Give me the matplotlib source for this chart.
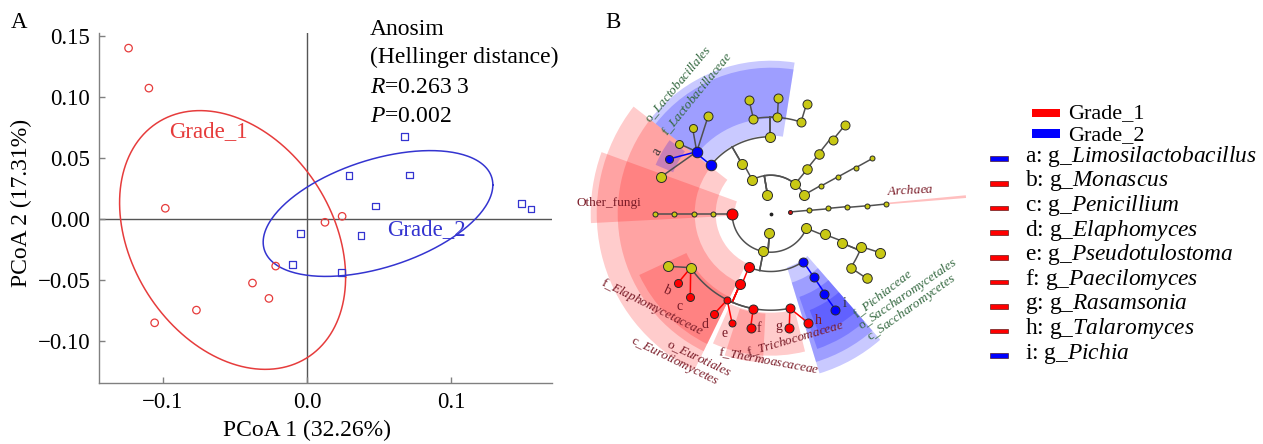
import numpy as np
import matplotlib
matplotlib.use('Agg')
import matplotlib.pyplot as plt
from matplotlib.patches import Wedge, Rectangle

plt.rcParams['font.family'] = ['Liberation Serif', 'DejaVu Serif']
plt.rcParams['mathtext.fontset'] = 'custom'
plt.rcParams['mathtext.rm'] = 'Liberation Serif'
plt.rcParams['mathtext.it'] = 'Liberation Serif:italic'

W, H = 1263, 444

# ---------------- panel A : PCoA ----------------
g1_pc1 = [-0.1239, -0.1098, -0.0984, 0.0124, 0.0243, -0.0218, -0.0379, -0.0265, -0.0768, -0.1058]
g1_pc2 = [0.1401, 0.1073, 0.0088, -0.0027, 0.0022, -0.0386, -0.0525, -0.0651, -0.0747, -0.0851]
g2_pc1 = [0.0677, 0.0290, 0.0711, 0.0476, -0.0045, 0.0374, -0.0102, 0.0240, 0.1487, 0.1554]
g2_pc2 = [0.0676, 0.0356, 0.0359, 0.0107, -0.0120, -0.0137, -0.0375, -0.0438, 0.0126, 0.0082]

ell_g1_center = [-0.0517, -0.0172]
ell_g1_cov = [[0.00615, -0.0024], [-0.0024, 0.01125]]
ell_g2_center = [0.0492, 0.0045]
ell_g2_cov = [[0.00635, 0.00187], [0.00187, 0.00266]]

x_ticks = [-0.1, 0.0, 0.1]
x_tick_labels = ['\u22120.1', '0.0', '0.1']
y_ticks = [-0.10, -0.05, 0.00, 0.05, 0.10, 0.15]
y_tick_labels = ['\u22120.10', '\u22120.05', '0.00', '0.05', '0.10', '0.15']

anosim_lines = ['Anosim', '(Hellinger distance)', '$\\mathit{R}$=0.263 3', '$\\mathit{P}$=0.002']

# ---------------- panel B : cladogram ----------------
node_name = ['root',
             'k_Bacteria', 'p_Firmicutes', 'c_Bacilli', 'o_Lactobacillales', 'f_Lactobacillaceae',
             'g_L1', 'g_L2', 'g_L3', 'g_Limosilactobacillus', 'g_L4',
             'o_B2', 'f_B2a', 'f_B2b', 'f_B2c', 'g_B2a', 'g_B2b', 'g_B2c',
             'p_B2', 'c_B2', 'o_B3', 'f_B3', 'g_B3',
             'p_B3', 'c_B3', 'o_B4', 'f_B4', 'g_B4',
             'k_Archaea', 'p_A', 'c_A', 'o_A', 'f_A', 'g_A',
             'k_Fungi', 'Other_fungi', 'c_OF', 'o_OF', 'f_OF', 'g_OF',
             'p_Ascomycota', 'c_Eurotiomycetes', 'o_Eurotiales',
             'f_Aspergillaceae', 'g_E1', 'g_Monascus', 'g_Penicillium',
             'f_Elaphomycetaceae', 'g_Elaphomyces', 'g_Pseudotulostoma',
             'f_Thermoascaceae', 'g_Paecilomyces',
             'f_Trichocomaceae', 'g_Rasamsonia', 'g_Talaromyces',
             'c_Saccharomycetes', 'o_Saccharomycetales', 'f_Pichiaceae', 'g_Pichia',
             'p_Basidiomycota', 'c_BA', 'o_BA', 'f_BA1', 'g_BA1', 'f_BA2', 'g_BA2']
node_parent = [None,
               'root', 'k_Bacteria', 'p_Firmicutes', 'c_Bacilli', 'o_Lactobacillales',
               'f_Lactobacillaceae', 'f_Lactobacillaceae', 'f_Lactobacillaceae', 'f_Lactobacillaceae', 'f_Lactobacillaceae',
               'c_Bacilli', 'o_B2', 'o_B2', 'o_B2', 'f_B2a', 'f_B2b', 'f_B2c',
               'k_Bacteria', 'p_B2', 'c_B2', 'o_B3', 'f_B3',
               'k_Bacteria', 'p_B3', 'c_B3', 'o_B4', 'f_B4',
               'root', 'k_Archaea', 'p_A', 'c_A', 'o_A', 'f_A',
               'root', 'k_Fungi', 'Other_fungi', 'c_OF', 'o_OF', 'f_OF',
               'k_Fungi', 'p_Ascomycota', 'c_Eurotiomycetes',
               'o_Eurotiales', 'f_Aspergillaceae', 'f_Aspergillaceae', 'f_Aspergillaceae',
               'o_Eurotiales', 'f_Elaphomycetaceae', 'f_Elaphomycetaceae',
               'o_Eurotiales', 'f_Thermoascaceae',
               'o_Eurotiales', 'f_Trichocomaceae', 'f_Trichocomaceae',
               'p_Ascomycota', 'c_Saccharomycetes', 'o_Saccharomycetales', 'f_Pichiaceae',
               'k_Fungi', 'p_Basidiomycota', 'c_BA', 'o_BA', 'f_BA1', 'o_BA', 'f_BA2']
node_angle = [0,
              99.6, 118.6, 120, 140.9, 140,
              122.7, 132.4, 142.7, 151.9, 161.5,
              90.5, 100.3, 86, 71.7, 100.8, 86.2, 71.9,
              50.6, 51, 51.4, 49.9, 50,
              29.4, 28.8, 28.7, 28.4, 28.5,
              5.1, 4.9, 5.3, 4.7, 4.6, 4.8,
              266, 180, 180, 180, 180, 180,
              259, 247.8, 246.5,
              214, 207, 216.8, 226,
              243.2, 240.5, 250.5,
              259.6, 260,
              281.5, 279.2, 289,
              304.2, 304.2, 303.7, 304,
              337.8, 339, 337.6, 340, 340.4, 326, 326]
node_size = [2,
             10, 10, 10, 10.5, 10.5,
             9, 8, 8, 8, 10,
             10, 9, 9, 9, 9, 9, 9,
             10, 9.5, 9.5, 9, 9,
             10, 5, 5, 5, 5,
             4, 5, 5, 5, 5, 5,
             10, 11, 5, 5, 5, 5,
             10, 10, 10,
             10, 10, 8, 8,
             7, 8, 7,
             9, 9,
             9, 9, 9,
             9, 9, 9, 9,
             10, 10, 10, 10, 10, 9.5, 9.5]

grade1_taxa = ['k_Archaea', 'Other_fungi', 'c_Eurotiomycetes', 'o_Eurotiales', 'g_Monascus',
               'g_Penicillium', 'f_Elaphomycetaceae', 'g_Elaphomyces', 'g_Pseudotulostoma',
               'f_Thermoascaceae', 'g_Paecilomyces', 'f_Trichocomaceae', 'g_Rasamsonia', 'g_Talaromyces']
grade2_taxa = ['o_Lactobacillales', 'f_Lactobacillaceae', 'g_Limosilactobacillus',
               'c_Saccharomycetes', 'o_Saccharomycetales', 'f_Pichiaceae', 'g_Pichia']

# shaded sectors: clade, theta1, theta2, inner radius, outer radius (px)
wedge_clade = ['c_Eurotiomycetes', 'o_Eurotiales', 'f_Elaphomycetaceae', 'Other_fungi',
               'f_Trichocomaceae', 'f_Thermoascaceae', 'k_Archaea',
               'o_Lactobacillales', 'f_Lactobacillaceae', 'g_Limosilactobacillus',
               'c_Saccharomycetes', 'o_Saccharomycetales', 'f_Pichiaceae', 'g_Pichia']
wedge_t1 = [142, 142, 205, 160, 246, 252, 4.6, 81, 81, 144, 287, 287, 289, 292]
wedge_t2 = [244, 244, 244, 183, 284, 267, 5.4, 142, 142, 157, 311, 311, 311, 311]
wedge_rin = [55, 76, 93, 36, 99, 100, 118, 78, 95, 106, 56, 72, 88, 104]
wedge_rout = [174, 153, 145, 180, 142, 149, 196, 153, 146, 125, 167, 155, 143, 130]

legend_letters = ['a', 'b', 'c', 'd', 'e', 'f', 'g', 'h', 'i']
legend_genus = ['Limosilactobacillus', 'Monascus', 'Penicillium', 'Elaphomyces', 'Pseudotulostoma',
                'Paecilomyces', 'Rasamsonia', 'Talaromyces', 'Pichia']

GREEN = '#33683f'
DRED = '#7a1c28'
clade_labels = [('o_$\\mathit{Lactobacillales}$', 678.3, 84.2, 50, GREEN),
                ('f_$\\mathit{Lactobacillaceae}$', 696.7, 94.2, 50.8, GREEN),
                ('Other_fungi', 609.3, 203.3, 0, DRED),
                ('$\\mathit{Archaea}$', 910, 190, 3, DRED),
                ('f_$\\mathit{Pichiaceae}$', 882.5, 294.2, 37.7, GREEN),
                ('o_$\\mathit{Saccharomycetales}$', 907.5, 294.2, 34.4, GREEN),
                ('c_$\\mathit{Saccharomycetes}$', 911.7, 307.5, 35.4, GREEN),
                ('f_$\\mathit{Elaphomycetaceae}$', 651.7, 306.7, -26.6, DRED),
                ('o_$\\mathit{Eurotiales}$', 698.3, 358.3, -25.4, DRED),
                ('c_$\\mathit{Eurotiomycetes}$', 674.2, 361.7, -26.1, DRED),
                ('f_$\\mathit{Thermoascaceae}$', 768.3, 360.8, -10.4, DRED),
                ('f_$\\mathit{Trichocomaceae}$', 795, 339.2, 16.3, DRED)]
letter_xy = [(656.7, 151.7, 60), (666.7, 290, -25), (680, 306, 0), (705, 325, 0), (725, 333.3, 0),
             (759.3, 329, 0), (779.3, 326.7, 0), (818.3, 320, 0), (845, 303.3, 0)]

RED_A = '#e63c3c'
BLUE_A = '#3434d0'


def ellipse_xy(center, cov):
    t = np.linspace(0, 2 * np.pi, 300)
    L = np.linalg.cholesky(np.array(cov))
    pts = np.array(center)[:, None] + L @ np.vstack([np.cos(t), np.sin(t)])
    return pts[0], pts[1]


fig = plt.figure(figsize=(W / 100, H / 100), dpi=100)

# axes A, placed by pixels
ax_l, ax_r, ax_t, ax_b_ = 99.3, 551.8, 33.0, 383.3
ax = fig.add_axes([ax_l / W, (H - ax_b_) / H, (ax_r - ax_l) / W, (ax_b_ - ax_t) / H])
ax.set_xlim(-0.1442, 0.1698)
ax.set_ylim(-0.1347, 0.1525)
ax.axhline(0, color='#555555', lw=1, zorder=1)
ax.axvline(0, color='#555555', lw=1, zorder=1)

ex, ey = ellipse_xy(ell_g1_center, ell_g1_cov)
ax.plot(ex, ey, color=RED_A, lw=1.1, zorder=2)
ex, ey = ellipse_xy(ell_g2_center, ell_g2_cov)
ax.plot(ex, ey, color=BLUE_A, lw=1.1, zorder=2)

ax.scatter(g1_pc1, g1_pc2, s=29, marker='o', facecolors='none', edgecolors=RED_A, linewidths=0.9, zorder=3)
ax.scatter(g2_pc1, g2_pc2, s=22, marker='s', facecolors='none', edgecolors=BLUE_A, linewidths=0.9, zorder=3)

ax.text(-0.0954, 0.072, 'Grade_1', color=RED_A, fontsize=16.5, ha='left', va='center')
ax.text(0.0558, -0.0088, 'Grade_2', color=BLUE_A, fontsize=16.5, ha='left', va='center')

ax.set_xticks(x_ticks)
ax.set_xticklabels(x_tick_labels)
ax.set_yticks(y_ticks)
ax.set_yticklabels(y_tick_labels)
ax.spines['top'].set_visible(False)
ax.spines['right'].set_visible(False)
for s in ['left', 'bottom']:
    ax.spines[s].set_color('#808080')
    ax.spines[s].set_linewidth(1)
ax.tick_params(axis='both', direction='in', length=4, width=1, color='#808080', labelsize=16.5)
ax.tick_params(axis='x', pad=6)
ax.tick_params(axis='y', pad=6.5)
ax.set_xlabel('PCoA 1 (32.26%)', fontsize=17)
ax.set_ylabel('PCoA 2 (17.31%)', fontsize=17)
ax.xaxis.label.set_va('center')
ax.xaxis.set_label_coords(0.460, -0.1356)
ax.yaxis.label.set_va('center')
ax.yaxis.set_label_coords(-0.172, 0.514)

# overlay axes in pixel units for panel B and free text
ov = fig.add_axes([0, 0, 1, 1])
ov.set_xlim(0, W)
ov.set_ylim(0, H)
ov.set_axis_off()


def td(y):
    return H - y


ov.text(10.7, td(28.3), 'A', fontsize=16.5, va='baseline')
ov.text(605, td(28), 'B', fontsize=16.5, va='baseline')
for k, line in enumerate(anosim_lines):
    ov.text(370, td([35, 63.3, 93.3, 121.7][k]), line, fontsize=17, va='baseline')

CX, CY = 770.7, td(213.7)
R = [0, 19.3, 38.5, 57.8, 77.0, 96.5, 115.8]
GCOL = {'g1': '#ff0000', 'g2': '#0000ff', None: '#c8c814'}
WCOL = {'g1': (1, 0, 0), 'g2': (0, 0, 1)}


def group_of(name):
    if name in grade1_taxa:
        return 'g1'
    if name in grade2_taxa:
        return 'g2'
    return None


def polar(r, th):
    t = np.deg2rad(th)
    return CX + r * np.cos(t), CY + r * np.sin(t)


idx = {n: i for i, n in enumerate(node_name)}
level = [0] * len(node_name)
for i, p in enumerate(node_parent):
    if p is not None:
        level[i] = level[idx[p]] + 1

# shading: red below, blue on top
order = [k for k in range(len(wedge_clade)) if group_of(wedge_clade[k]) == 'g1'] + \
        [k for k in range(len(wedge_clade)) if group_of(wedge_clade[k]) == 'g2']
for k in order:
    g = group_of(wedge_clade[k])
    a = 0.2 if g == 'g1' else 0.21
    if wedge_clade[k] == 'k_Archaea':
        a = 0.25
    ov.add_patch(Wedge((CX, CY), wedge_rout[k], wedge_t1[k], wedge_t2[k],
                       width=wedge_rout[k] - wedge_rin[k], facecolor=WCOL[g], alpha=a,
                       edgecolor='none', zorder=1))

# edges
EDGE = '#505050'
for i, n in enumerate(node_name):
    p = node_parent[i]
    if p is None or p == 'root':
        continue
    j = idx[p]
    rp, rc = R[level[j]], R[level[i]]
    tp, tc = node_angle[j], node_angle[i]
    gi, gj = group_of(n), group_of(p)
    if level[i] == 6 and level[j] == 5:
        col = GCOL[gi] if gi else EDGE
        x1, y1 = polar(rp, tp)
        x2, y2 = polar(rc, tc)
        ov.plot([x1, x2], [y1, y2], color=col, lw=1.1, zorder=2, solid_capstyle='round')
    else:
        col = GCOL[gi] if (gi and gi == gj) else EDGE
        x1, y1 = polar(rp, tp)
        x2, y2 = polar(rc, tp)
        ov.plot([x1, x2], [y1, y2], color=col, lw=1.1, zorder=2)
        th = np.linspace(tp, tc, 60)
        ax_, ay_ = polar(rc, th)
        ov.plot(ax_, ay_, color=EDGE, lw=1.1, zorder=2)

# nodes
for i, n in enumerate(node_name):
    x, y = polar(R[level[i]], node_angle[i])
    if n == 'root':
        ov.scatter([x], [y], s=3, color='#222222', zorder=3)
        continue
    g = group_of(n)
    fc = GCOL[g]
    if n == 'k_Archaea':
        fc = '#cc1010'
    ov.scatter([x], [y], s=(node_size[i] * 0.72) ** 2, facecolor=fc, edgecolor='#2a2a2a',
               linewidths=0.7, zorder=3)

for text, x, y, rot, col in clade_labels:
    ov.text(x, td(y), text, fontsize=9.5, color=col, rotation=rot, rotation_mode='anchor',
            ha='center', va='center', zorder=4)
for k, (x, y, rot) in enumerate(letter_xy):
    col = '#333333' if legend_letters[k] in ('a', 'i') else DRED
    ov.text(x, td(y), legend_letters[k], fontsize=10, color=col, rotation=rot,
            ha='center', va='center', zorder=4)

# legend
ov.add_patch(Rectangle((1031.7, td(117)), 28.3, 8.3, facecolor='#ff0000', edgecolor='none'))
ov.text(1068, td(118.5), 'Grade_1', fontsize=16, va='baseline')
ov.add_patch(Rectangle((1031.7, td(138.5)), 28.3, 9, facecolor='#0000ff', edgecolor='none'))
ov.text(1068, td(140.5), 'Grade_2', fontsize=16, va='baseline')
for k, (lt, gn) in enumerate(zip(legend_letters, legend_genus)):
    yc = 158.8 + 24.6 * k
    g = group_of('g_' + gn)
    ov.add_patch(Rectangle((990, td(yc + 2.3)), 18.3, 4.6, facecolor=GCOL[g], edgecolor='#400000', lw=0.4))
    ov.text(1025, td(yc + 3), lt + ': g_$\\mathit{' + gn + '}$', fontsize=16.8, va='baseline')

fig.savefig('out.png', dpi=100)
